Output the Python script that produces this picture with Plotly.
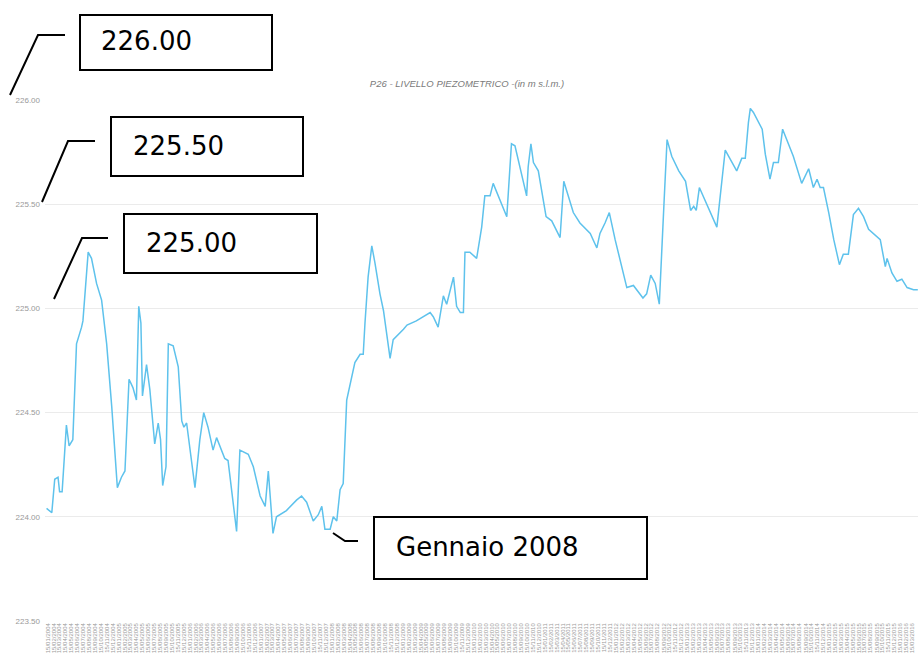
import plotly.graph_objects as go

# ---- data ----
dates = [
    "2004-01-09","2004-02-05","2004-02-20","2004-03-08","2004-03-16","2004-03-29","2004-04-20","2004-05-04",
    "2004-05-23","2004-06-11","2004-07-07","2004-07-14","2004-08-10","2004-08-27","2004-09-22","2004-10-18",
    "2004-11-13","2004-12-09","2005-01-07","2005-01-28","2005-02-15","2005-03-08","2005-03-28","2005-04-15",
    "2005-04-27","2005-05-08","2005-05-16","2005-06-06","2005-06-23","2005-07-18","2005-08-05","2005-08-17",
    "2005-08-28","2005-09-14","2005-09-26","2005-10-21","2005-11-16","2005-12-04","2005-12-15","2005-12-29",
    "2006-02-10","2006-03-07","2006-03-27","2006-04-18","2006-05-14","2006-06-01","2006-07-13","2006-07-30",
    "2006-09-12","2006-09-29","2006-11-11","2006-12-07","2007-01-11","2007-02-06","2007-02-22","2007-03-18",
    "2007-04-05","2007-05-26","2007-07-17","2007-08-12","2007-09-07","2007-10-11","2007-11-06","2007-11-24",
    "2007-12-10","2008-01-06","2008-01-22","2008-02-09","2008-02-26","2008-03-13","2008-03-31","2008-04-17",
    "2008-05-12","2008-06-08","2008-06-24","2008-07-03","2008-07-19","2008-08-07","2008-08-23","2008-09-18",
    "2008-10-06","2008-11-09","2008-11-25","2009-01-17","2009-02-04","2009-03-24","2009-06-03","2009-06-19",
    "2009-07-14","2009-08-10","2009-08-27","2009-10-01","2009-10-17","2009-11-05","2009-11-21","2009-11-29",
    "2009-12-24","2010-01-28","2010-02-23","2010-03-11","2010-04-07","2010-04-23","2010-07-02","2010-07-26",
    "2010-08-13","2010-10-12","2010-10-20","2010-11-03","2010-11-16","2010-12-11","2011-01-20","2011-02-18",
    "2011-04-02","2011-04-21","2011-06-09","2011-07-13","2011-09-04","2011-10-08","2011-10-24","2011-11-19",
    "2011-12-11","2012-01-10","2012-02-06","2012-03-10","2012-04-13","2012-06-01","2012-06-20","2012-07-11",
    "2012-08-03","2012-08-24","2012-09-18","2012-10-03","2012-10-27","2012-12-02","2013-01-06","2013-02-01",
    "2013-02-17","2013-03-02","2013-03-18","2013-04-24","2013-06-16","2013-07-29","2013-09-26","2013-10-22",
    "2013-11-09","2013-11-25","2013-12-05","2013-12-21","2014-01-16","2014-02-04","2014-02-20","2014-03-16",
    "2014-04-03","2014-04-28","2014-05-20","2014-07-14","2014-08-26","2014-10-01","2014-10-25","2014-11-13",
    "2014-11-29","2014-12-16","2015-01-12","2015-02-07","2015-03-08","2015-03-28","2015-04-23","2015-05-19",
    "2015-06-14","2015-07-10","2015-08-05","2015-10-04","2015-10-30","2015-11-08","2015-12-03","2015-12-29",
    "2016-01-23","2016-02-19","2016-03-23","2016-04-14",
]
livello = [
    224.04,224.02,224.18,224.19,224.12,224.12,224.44,224.34,
    224.37,224.83,224.91,224.94,225.27,225.24,225.12,225.04,
    224.83,224.53,224.14,224.19,224.22,224.66,224.62,224.56,
    225.01,224.93,224.58,224.73,224.61,224.35,224.45,224.37,
    224.15,224.24,224.83,224.82,224.72,224.46,224.43,224.45,
    224.14,224.37,224.50,224.43,224.32,224.38,224.28,224.27,
    223.93,224.32,224.30,224.24,224.10,224.05,224.22,223.92,
    224.00,224.03,224.08,224.10,224.07,223.98,224.01,224.05,
    223.94,223.94,224.00,223.98,224.13,224.16,224.56,224.64,
    224.74,224.78,224.78,224.93,225.15,225.30,225.22,225.07,
    224.99,224.76,224.85,224.90,224.92,224.94,224.98,224.96,
    224.91,225.06,225.02,225.15,225.01,224.98,224.98,225.27,
    225.27,225.24,225.39,225.54,225.54,225.60,225.44,225.79,
    225.78,225.54,225.68,225.79,225.70,225.66,225.44,225.42,
    225.34,225.61,225.46,225.41,225.36,225.29,225.36,225.41,
    225.46,225.33,225.23,225.10,225.11,225.05,225.07,225.16,
    225.12,225.02,225.52,225.81,225.73,225.66,225.61,225.47,
    225.49,225.47,225.58,225.50,225.39,225.76,225.66,225.72,
    225.72,225.89,225.96,225.94,225.89,225.86,225.74,225.62,
    225.70,225.70,225.86,225.73,225.60,225.67,225.58,225.62,
    225.58,225.58,225.46,225.33,225.21,225.26,225.26,225.45,
    225.48,225.44,225.38,225.33,225.20,225.24,225.17,225.13,
    225.14,225.10,225.09,225.09,
]
x_range = ["2004-01-01", "2016-04-15"]
x_tick0 = "2004-01-15"
y_ticks = [223.5, 224.0, 224.5, 225.0, 225.5, 226.0]
y_ticktext = ["223.50", "224.00", "224.50", "225.00", "225.50", "226.00"]
title_text = "P26 - LIVELLO PIEZOMETRICO -(in m s.l.m.)"
callouts = ["226.00", "225.50", "225.00", "Gennaio 2008"]

# ---- layout geometry (pixels) ----
W, H = 918, 664
L, R, T, B = 45, 0, 100, 43
PW, PH = W - L - R, H - T - B


def px(x):
    return (x - L) / PW


def py(y):
    return (H - B - y) / PH


fig = go.Figure()
fig.add_trace(go.Scatter(
    x=dates, y=livello, mode="lines",
    line=dict(color="#5ec2ec", width=1.5),
    hoverinfo="skip", showlegend=False,
))

shapes = []
annotations = []

# callout boxes: (box x0,y0,x1,y1), text left, text center y, connector polyline
boxes = [
    ((80, 15, 272, 70), 99, 41, [(10, 95), (38, 35), (65, 35)]),
    ((111, 117, 303, 176), 131, 146, [(42, 202), (68, 141), (95, 141)]),
    ((124, 214, 317, 273), 144, 243, [(54, 299), (82, 238), (108, 238)]),
    ((374, 517, 647, 579), 394, 547, [(333, 533), (345, 541), (358, 541)]),
]
for (bx, tx, ty, poly), label in zip(boxes, callouts):
    x0, y0, x1, y1 = bx
    shapes.append(dict(type="rect", xref="paper", yref="paper",
                       x0=px(x0), x1=px(x1), y0=py(y1), y1=py(y0),
                       line=dict(color="black", width=2), fillcolor="white", layer="above"))
    path = "M " + " L ".join(f"{px(a)},{py(b)}" for a, b in poly)
    shapes.append(dict(type="path", xref="paper", yref="paper", path=path,
                       line=dict(color="black", width=2), layer="above"))
    annotations.append(dict(xref="paper", yref="paper", x=px(tx), y=py(ty),
                            xanchor="left", yanchor="middle", showarrow=False,
                            text=label, font=dict(family="DejaVu Sans", size=26, color="black")))

fig.update_layout(
    width=W, height=H,
    margin=dict(l=L, r=R, t=T, b=B, pad=0),
    paper_bgcolor="white", plot_bgcolor="white",
    title=dict(text="<i>" + title_text + "</i>", x=px(467), xref="paper", xanchor="center",
               y=1 - 84 / H, yanchor="middle",
               font=dict(family="Liberation Sans", size=9.5, color="#7a7a7a")),
    xaxis=dict(type="date", range=x_range, dtick="M1", tick0=x_tick0,
               tickformat="%d/%m/%Y", tickangle=-90,
               tickfont=dict(family="Liberation Sans", size=6, color="#9a9a9a"),
               showgrid=False, zeroline=False, showline=False, ticks=""),
    yaxis=dict(range=[223.5, 226.0], tickvals=y_ticks, ticktext=y_ticktext,
               tickfont=dict(family="Liberation Sans", size=8, color="#999999"),
               showgrid=True, gridcolor="#ebebeb", gridwidth=1,
               zeroline=False, showline=False, ticks="", ticklabelstandoff=4),
    shapes=shapes, annotations=annotations,
)

fig.write_html(
    "out.html",
    config={"displayModeBar": False},
    post_script="document.body.style.margin='0px';document.body.style.overflow='hidden';",
)
